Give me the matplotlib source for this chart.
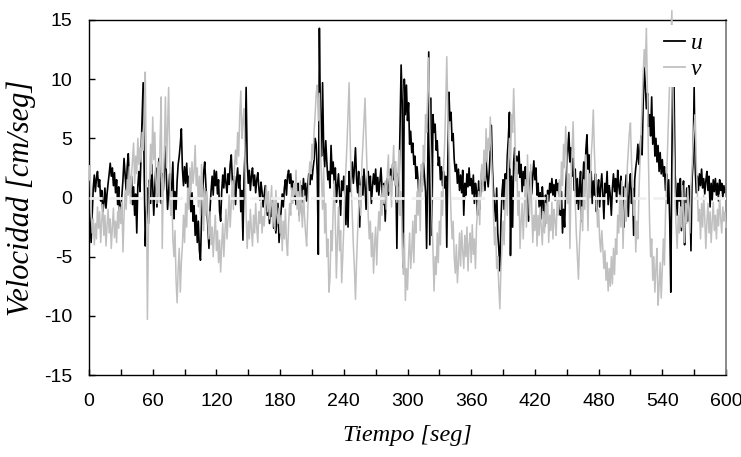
import numpy as np
import matplotlib.pyplot as plt
from matplotlib.ticker import MultipleLocator

# velocidades, una muestra por segundo (0..600 s)
u = [
    -0.5, -2.0, -3.8, -1.5, 0.8, 1.9, 0.5, 1.6, 2.2, 0.9,
    1.5, -0.3, 0.6, -1.2, -0.5, 0.8, -0.9, 0.3, 1.2, 2.0,
    2.9, 1.8, 2.5, 1.0, 2.1, 0.4, 1.5, -0.6, 0.9, -1.8,
    -0.8, 0.2, 1.5, 3.3, 2.0, 0.6, 2.6, 3.7, 1.4, 0.4,
    1.8, -0.6, 0.9, -1.5, 0.3, -3.0, 1.0, 2.2, 0.5, 3.5,
    6.5, 9.7, 2.0, -4.1, -1.5, 0.8, -2.2, 1.5, -0.5, 2.8,
    1.0, -1.5, 0.8, 2.5, -0.8, 1.6, 3.3, 1.2, -0.5, 2.0,
    0.6, 2.4, 4.3, 1.5, -1.0, 0.5, 2.0, -0.8, 1.2, 3.0,
    -1.8, 0.5, -1.0, 1.4, 2.8, 3.5, 4.5, 5.8, 2.4, 1.0,
    2.6, 1.2, 2.9, 0.8, 1.8, -0.3, -1.2, 0.4, -2.0, -0.7,
    -3.2, -1.5, -3.8, -2.0, -4.5, -5.3, -1.8, 0.5, 2.1, 3.0,
    1.2, -0.8, -2.5, -4.3, -1.0, 0.6, 1.8, 0.2, 2.3, 1.0,
    2.2, 0.3, 1.5, -1.2, -2.0, 0.5, 1.9, 0.8, 2.5, 1.2,
    0.4, 2.0, 1.1, 2.8, 3.6, 1.5, 0.2, 1.8, -0.6, 1.4,
    2.5, 0.8, 1.9, -1.2, 0.6, -3.6, 1.5, 4.0, 9.3, 3.0,
    1.2, 2.3, 0.6, 1.8, 2.5, 1.0, 1.9, 0.4, 1.5, 2.1,
    0.8, -0.2, 1.3, 0.5, -0.8, 0.2, 1.0, -0.4, -1.5, -0.6,
    -2.2, -0.8, -1.6, -0.2, -2.6, -1.0, -3.0, -1.8, -0.5, -3.8,
    -2.4, -1.0, 0.3, -0.8, 0.8, 1.5, 0.2, 1.8, 2.3, 1.2,
    2.0, 0.6, 1.4, -0.2, 0.9, -0.6, 0.5, 1.2, -1.5, 0.3,
    1.0, -0.4, 1.6, 0.2, 1.2, -0.3, 0.8, 2.0, 1.1, 2.7,
    1.5, 2.4, 3.2, 5.0, 4.5, 2.0, -4.8, 14.3, 6.5, 3.5,
    9.7, 4.2, 2.6, 4.8, 3.0, 1.5, 2.2, 0.8, 4.4, 2.0,
    3.0, 1.2, 2.5, -0.4, 1.0, 2.0, 0.3, -1.5, 1.4, 0.6,
    1.8, 0.2, -2.3, 1.0, -2.5, 2.2, 0.5, 1.6, 3.0, 1.2,
    2.5, 4.2, 1.6, 0.4, 2.2, -2.5, 1.0, 1.8, 0.2, 2.4,
    1.0, -1.0, 1.5, 2.2, 0.6, 1.8, -0.5, 0.9, 2.0, 1.1,
    2.4, 0.5, 1.7, 0.2, 1.3, 2.5, 0.8, -0.6, 1.2, -2.0,
    0.4, 1.6, 0.2, 1.2, 2.4, 1.0, 2.8, 1.5, 3.0, 1.8,
    -4.3, 2.0, 1.0, 6.0, 11.2, 8.0, -5.9, 10.0, 7.0, 9.5,
    6.5, 8.0, 4.5, 5.6, 3.8, 4.6, 2.8, 3.5, 1.6, 2.6,
    1.4, -0.4, 0.8, 2.2, 1.0, 3.0, 1.8, 0.5, -4.3, 2.0,
    12.3, -4.0, 8.4, -3.2, 7.0, 5.5, 6.2, 4.0, 4.8, 2.7,
    3.4, 1.5, 2.6, 1.0, 2.2, 0.8, 1.8, -4.2, 3.0, 8.9,
    6.5, 7.2, 4.8, 5.4, 3.2, 2.2, 2.8, 1.2, 2.4, 0.6,
    1.9, 0.4, 2.3, -1.5, 1.2, 0.2, 2.0, 0.9, 2.5, 1.0,
    1.6, 0.3, 1.9, -0.5, 1.2, 0.6, -1.5, 1.4, -1.0, 0.8,
    2.3, 1.0, 2.8, 0.6, 3.2, 1.8, 0.9, 2.2, 4.0, 6.1,
    2.5, 0.5, -0.7, -2.0, 0.8, -3.0, -4.3, -6.2, -2.0, 0.4,
    1.5, -1.0, 2.0, 0.6, 3.5, 5.0, 7.2, -4.9, 1.8, -2.5,
    3.0, 4.2, 1.8, 3.5, 2.0, 3.9, 1.7, 2.8, 0.5, 2.2,
    1.0, 2.6, -0.4, 1.5, -2.0, 0.8, 2.2, 0.3, 1.8, 3.1,
    1.5, 2.5, 0.2, 1.2, -0.8, 0.4, -1.8, 0.9, -0.5, -2.5,
    0.2, -1.0, 0.6, -0.3, 1.2, 0.4, 1.6, 0.2, 1.1, -0.2,
    1.5, 0.6, 1.2, -0.8, -1.5, 0.5, -3.0, -1.0, -2.5, 0.8,
    2.5, 4.0, 5.5, 3.0, 4.2, 1.8, 3.3, 0.6, 2.4, -0.5,
    1.6, -1.0, 0.8, 2.2, -2.0, 1.2, 3.0, 0.6, 4.0, 5.3,
    2.4, 3.6, 1.0, 2.2, -0.5, 1.4, 0.2, 2.0, -1.2, 0.6,
    1.5, -0.8, 0.9, 2.0, 0.3, -1.8, 1.2, 0.4, 2.2, -0.6,
    1.0, 0.2, -1.5, 0.8, 2.0, 0.5, 1.6, -0.4, 2.3, 1.0,
    0.2, 1.8, -1.2, 0.9, -2.5, 0.6, 1.9, 0.2, -1.6, 1.1,
    2.0, -0.5, 0.8, -3.2, 1.5, 2.5, 3.2, 4.5, 2.8, 4.0,
    5.2, 3.6, 8.0, 11.0, 9.5, 7.5, 8.8, 6.0, 7.0, 5.2,
    8.5, 4.5, 6.8, 3.5, 5.0, 3.0, 4.4, 2.2, 3.8, 2.0,
    3.2, 1.8, 2.6, 0.6, 2.0, -0.5, 1.5, -2.0, -8.0, 3.0,
    12.0, 9.9, 2.0, 0.5, -1.5, 1.2, -0.3, 1.6, -2.8, 0.4,
    1.4, -4.0, -1.0, 0.8, -2.0, 1.0, 0.2, -4.5, 1.5, 3.0,
    9.3, 2.5, 0.4, 1.8, 0.6, 2.0, 1.0, 2.4, 0.8, 1.6,
    0.3, 1.4, 2.2, 0.6, 1.8, -0.8, 1.2, -0.2, 1.5, 0.5,
    1.6, 0.2, 1.2, -0.3, 1.5, 0.6, 1.2, 0.0, 1.0, 0.4,
    0.8,
]

v = [
    1.5, 2.7, -1.0, -3.0, -1.8, -4.0, -2.2, -3.5, -0.8, -2.6,
    -1.2, -3.8, -2.0, -0.6, -3.2, -1.5, -4.1, -2.4, -1.0, -3.0,
    -1.8, -4.3, -2.5, -0.9, -3.4, -2.0, -3.8, -1.2, -2.6, -0.8,
    -2.2, -0.4, -4.6, -1.5, 0.6, -1.0, 1.5, 0.2, 2.6, -0.5,
    1.8, 3.2, 4.6, 1.2, 3.5, 2.0, 5.0, 2.8, 4.2, 3.0,
    5.5, 4.0, 7.5, 10.6, 2.0, -10.3, -2.5, 1.2, 4.5, 2.0,
    6.8, 3.2, 5.5, 1.5, -0.5, 3.0, -0.4, 5.0, 8.5, -4.3,
    1.5, 4.0, 8.5, 2.5, 6.0, 9.3, 3.5, -1.5, 0.5, -3.5,
    -5.0, -2.8, -7.0, -8.9, -6.0, -4.3, -8.0, -5.5, -4.0, -1.5,
    -3.8, -0.5, -2.5, 0.8, -1.0, 2.5, 0.5, 3.0, 1.2, 2.2,
    4.4, 1.0, 2.5, -0.8, 1.8, -1.5, 2.8, 0.2, -2.8, 0.8,
    -1.5, 0.5, -2.0, -3.5, -1.2, -4.0, -2.5, -5.0, -3.0, -1.5,
    -4.5, -2.8, -5.5, -3.6, -6.3, -4.0, -2.2, -5.0, -3.0, -1.0,
    -3.5, -1.8, 0.2, -2.5, -0.5, 1.4, -1.0, 2.5, 4.0, 2.8,
    5.5, 3.5, 7.0, 9.0, 5.0, 6.5, 7.5, 3.0, -1.5, -4.3,
    -2.0, -3.5, -1.0, -2.8, -4.1, -1.5, -3.0, -0.5, -2.5, -3.8,
    -1.2, -2.2, -0.4, -3.0, -1.6, -2.4, -0.8, 1.0, -1.2, 0.5,
    -1.8, -0.6, 1.0, -2.5, -0.2, -2.8, 0.6, -1.4, -2.2, -0.9,
    -3.0, -1.5, -4.5, -2.0, -3.5, -1.0, -3.8, -4.9, -2.2, -0.5,
    -1.5, 0.8, -0.5, 1.2, 0.2, 2.3, -1.0, 0.5, -2.0, 1.4,
    -0.8, -2.5, 0.6, -1.6, -3.0, -4.1, -1.2, 1.4, 3.0, 2.0,
    4.5, 3.2, 5.5, 7.0, 8.8, 9.5, 6.5, 8.8, 4.4, 1.5,
    -1.0, 2.5, -3.0, -0.5, -5.0, -3.5, -8.0, -6.8, -2.8, -4.5,
    -1.0, 1.4, -2.0, -6.8, -3.5, -0.8, -4.5, -2.8, -7.2, -5.0,
    -2.5, 0.5, 2.5, 4.5, 7.0, 9.7, 5.0, 1.0, -1.5, -4.0,
    -6.0, -8.6, -5.5, -3.0, -1.0, 1.0, -1.5, 2.8, 4.5, 6.5,
    8.4, 5.0, 2.0, -1.5, -3.5, -2.0, -5.0, -3.0, -6.4, -4.0,
    -2.5, -5.7, -3.0, -1.2, -2.8, 0.2, -1.5, 1.0, -0.5, 1.4,
    -1.0, 2.0, 3.6, 0.5, 1.8, -0.8, 2.5, 4.4, 1.0, 3.0,
    -0.4, 2.0, 4.0, -1.5, 0.5, -4.0, -6.5, -3.0, -8.7, -6.0,
    -7.8, -5.0, -3.0, -6.0, -4.5, -2.0, -5.5, -1.5, -3.0, 0.5,
    -1.5, 1.5, -2.8, 2.8, 0.5, 4.4, 3.0, 7.0, 5.5, 9.0,
    11.8, 6.0, 2.8, -1.5, -4.5, -7.9, -5.0, -6.5, -3.0, -5.5,
    -2.0, -4.0, 0.5, -1.5, 2.5, 4.5, 8.0, 11.9, 7.0, 4.5,
    1.4, -1.5, -3.5, -2.0, -5.0, -6.4, -4.0, -7.2, -5.5, -3.0,
    -5.8, -2.8, -4.5, -6.0, -3.2, -5.0, -2.5, -6.2, -4.0, -3.0,
    -5.5, -2.3, -4.8, -3.5, -6.0, -2.5, -1.0, 0.5, -2.3, 1.5,
    2.8, 0.5, 4.0, 1.4, 5.8, 3.0, 5.0, 4.0, 6.8, 3.5,
    1.4, -1.5, -4.0, -2.5, -6.0, -5.0, -7.5, -9.4, -6.0, -4.3,
    -2.0, -4.0, -0.5, 1.5, -1.5, 3.0, 5.0, 2.5, 7.0, 5.5,
    9.2, 6.0, 1.4, 3.0, -1.5, 0.5, -4.3, -2.0, -0.5, -3.5,
    -1.0, 1.5, -2.5, 3.6, 0.5, -1.5, 2.8, -0.8, -3.8, -1.5,
    -2.8, -0.2, -4.1, -1.5, -3.2, -0.8, -2.5, -4.0, -1.2, -3.0,
    -0.5, -2.2, 0.2, -3.8, -1.5, -2.8, -0.4, -3.5, -1.0, -2.0,
    -3.2, 0.0, -1.5, 1.5, -1.0, 3.0, 1.0, 4.5, 2.5, 6.0,
    3.5, -0.5, 2.0, -4.3, 1.0, 4.0, 6.4, 2.5, -0.2, -3.0,
    -5.0, -6.9, -4.0, -2.0, -0.8, -2.8, 1.5, -1.0, 3.6, 0.8,
    -2.8, 2.0, 0.0, 3.5, 5.0, 7.4, 4.0, 1.5, -0.2, -2.5,
    -1.0, -3.5, -4.6, -2.8, -4.3, -6.0, -4.5, -7.0, -5.5, -7.9,
    -6.0, -7.5, -5.0, -7.3, -4.3, -6.5, -3.5, -4.8, -1.5, -3.0,
    0.2, -2.5, 1.4, -4.3, -1.0, 0.8, -2.0, 2.5, 4.0, 5.5,
    6.3, 3.0, 1.0, -1.5, -0.2, -4.6, -2.0, -3.5, 0.5, 3.0,
    5.5, 8.0, 10.5, 12.5, 11.0, 14.3, 9.0, 3.0, -2.0, -5.0,
    -3.5, -7.0, -5.0, -8.0, -6.0, -4.3, -9.1, -7.5, -5.5, -8.5,
    -6.0, -3.5, -5.7, -1.5, 1.4, 4.0, 7.0, 10.0, 13.0, 15.8,
    9.5, 4.0, -0.2, -2.5, -4.3, -1.5, -3.0, -0.8, -2.5, 1.0,
    -1.5, -3.8, -0.5, -2.2, 0.8, -1.0, -3.0, 1.0, 2.5, 4.5,
    6.0, 7.0, 3.0, 0.5, -2.0, -1.0, -3.5, -0.5, -2.5, 0.2,
    -1.8, -4.3, -2.0, -0.5, -3.0, -1.2, -3.8, -2.0, -0.4, -2.8,
    -1.5, -3.5, -1.0, -2.4, 0.2, -1.8, -3.0, -0.8, -2.0, -1.2,
    -2.5,
]

tiempo = np.arange(len(u))
xticks = [0, 60, 120, 180, 240, 300, 360, 420, 480, 540, 600]
yticks = [-15, -10, -5, 0, 5, 10, 15]

fuente_num = 'Liberation Sans'
fuente_txt = 'Liberation Serif'

plt.rcParams['axes.unicode_minus'] = False
plt.rcParams['lines.scale_dashes'] = False

fig = plt.figure(figsize=(7.41, 4.57), dpi=100)
ax = fig.add_axes([89 / 741, 82 / 457, 637 / 741, 355 / 457])

ax.plot(tiempo, u, color='black', lw=1.2, zorder=2, label='u')
ax.plot(tiempo, v, color='#c0c0c0', lw=1.1, zorder=3, label='v', clip_on=False)
# linea de cero, discontinua y casi blanca
ax.axhline(0, color='#f0f0f0', lw=2.0, dashes=(9.5, 5.0), zorder=4)

ax.set_xlim(0, 600)
ax.set_ylim(-15, 15)
ax.set_xticks(xticks)
ax.set_yticks(yticks)
ax.xaxis.set_minor_locator(MultipleLocator(30))
ax.tick_params(axis='both', which='both', direction='in', length=4, width=1,
               top=False, right=False)
ax.tick_params(axis='x', pad=13)
ax.tick_params(axis='y', pad=12)
for lab in ax.get_xticklabels() + ax.get_yticklabels():
    lab.set_fontfamily(fuente_num)
    lab.set_fontsize(14)

for s in ['left', 'bottom', 'top']:
    ax.spines[s].set_linewidth(1.0)
    ax.spines[s].set_color('black')
ax.spines['right'].set_color('#808080')
ax.spines['right'].set_linewidth(1.3)

ax.set_xlabel('Tiempo [seg]', family=fuente_txt, style='italic', fontsize=17.5, labelpad=11)
ax.set_ylabel('Velocidad [cm/seg]', family=fuente_txt, style='italic', fontsize=22, labelpad=6)

leg = ax.legend(loc='upper right', bbox_to_anchor=(0.975, 0.985), frameon=True,
                fancybox=False, framealpha=1, edgecolor='none', facecolor='white',
                prop={'family': fuente_txt, 'style': 'italic', 'size': 17},
                handlelength=0.9, handletextpad=0.25, labelspacing=0.2,
                borderpad=0.3, borderaxespad=0)
leg.set_zorder(6)
for ln in leg.get_lines():
    ln.set_linewidth(1.3)

fig.savefig('out.png', dpi=100)
